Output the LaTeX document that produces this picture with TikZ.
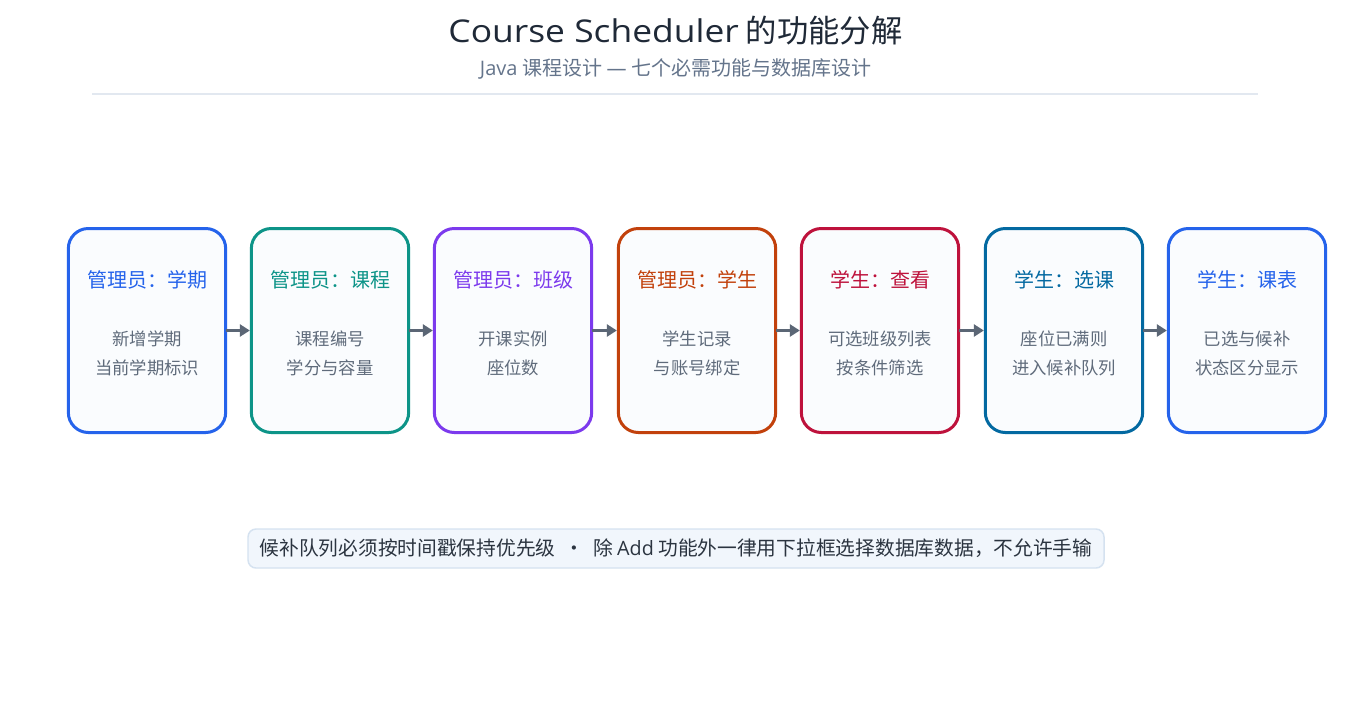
\documentclass[tikz,border=0pt]{standalone}
\usepackage{fontspec}
\setmainfont{Noto Sans CJK SC}
\newfontfamily\lat{Open Sans}
\newfontfamily\latwide{Open Sans}[FakeStretch=1.13]
\usetikzlibrary{arrows.meta}
\definecolor{cBlue}{HTML}{2563EB}
\definecolor{cTeal}{HTML}{0D9488}
\definecolor{cPurple}{HTML}{7C3AED}
\definecolor{cOrange}{HTML}{C2410C}
\definecolor{cRed}{HTML}{BE123C}
\definecolor{cSea}{HTML}{0369A1}
\definecolor{boxfill}{HTML}{FAFCFE}
\definecolor{titlec}{HTML}{1F2937}
\definecolor{subc}{HTML}{64748B}
\definecolor{bodyc}{HTML}{5F6B7B}
\definecolor{arrc}{HTML}{5B6675}
\definecolor{rulec}{HTML}{E2E8F0}
\definecolor{notefill}{HTML}{F1F6FC}
\definecolor{notedraw}{HTML}{D5E2F0}
\definecolor{notetext}{HTML}{2B3440}
\tikzset{
  stagebox/.style={draw=#1, line width=2.25pt, fill=boxfill, rounded corners=15pt,
    minimum width=118pt, minimum height=153pt, inner sep=0pt},
  headtext/.style={text=#1, font=\fontsize{15}{18}\selectfont, inner sep=0pt},
  bodytext/.style={text=bodyc, font=\fontsize{13}{21.75}\selectfont, align=center, inner sep=0pt},
  flowarrow/.style={draw=arrc, line width=2.25pt, -{Triangle[length=7.5pt,width=9pt]}, shorten <=-1pt},
}
\begin{document}
\begin{tikzpicture}[x=0.75pt,y=-0.75pt]
\useasboundingbox (0,0) rectangle (1351,717);
\fill[white] (0,0) rectangle (1351,717);
\node[text=titlec, font=\fontsize{23.5}{28}\selectfont, inner sep=0pt] (title) at (675.5,31) {{\latwide Course Scheduler} 的功能分解};
\node[text=subc, font=\fontsize{15}{18}\selectfont, inner sep=0pt] (subtitle) at (675.5,69) {{\lat Java} 课程设计 {\lat —} 七个必需功能与数据库设计};
\draw[rulec, line width=1.5pt] (92,94) -- (1258,94);

\foreach \i/\x/\c/\h/\bA/\bB in {
  1/147/cBlue/管理员：学期/新增学期/当前学期标识,
  2/330/cTeal/管理员：课程/课程编号/学分与容量,
  3/513/cPurple/管理员：班级/开课实例/座位数,
  4/697/cOrange/管理员：学生/学生记录/与账号绑定,
  5/880/cRed/学生：查看/可选班级列表/按条件筛选,
  6/1064/cSea/学生：选课/座位已满则/进入候补队列,
  7/1247/cBlue/学生：课表/已选与候补/状态区分显示}{
  \node[stagebox=\c] (b\i) at (\x,330.5) {};
  \node[headtext=\c] (h\i) at (\x,280) {\h};
  \node[bodytext] (t\i) at (\x,353.5) {\bA\\\bB};
}
\foreach \i [evaluate=\i as \j using int(\i+1)] in {1,...,6}{
  \draw[flowarrow] (b\i.east) -- (b\j.west);
}
\node[fill=notefill, draw=notedraw, line width=1.1pt, rounded corners=6pt,
  minimum width=642pt, minimum height=29.25pt, inner sep=0pt,
  text=notetext, font=\fontsize{14.8}{17}\selectfont] (note) at (676,548.5)
  {候补队列必须按时间戳保持优先级\ \ ·\ \ 除 {\lat Add} 功能外一律用下拉框选择数据库数据，不允许手输};
\end{tikzpicture}
\end{document}
